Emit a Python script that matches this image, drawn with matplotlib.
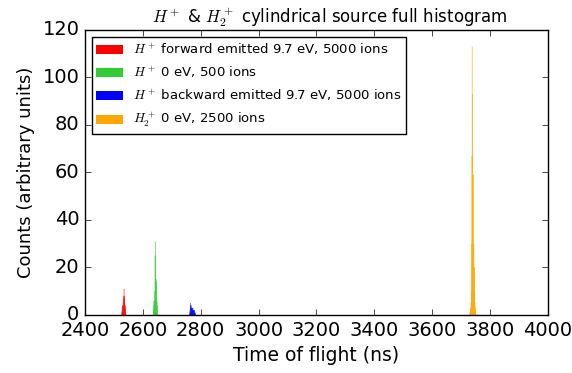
import matplotlib
matplotlib.use("Agg")
import matplotlib.pyplot as plt
import numpy as np

plt.style.use('classic')

# Data (bin centres in ns, counts in arbitrary units)
red_t = [2527, 2528, 2529, 2530, 2531, 2532, 2533, 2534, 2535, 2536, 2537, 2538, 2539, 2540, 2541]
red_c = [1, 2, 3, 4, 4, 5, 7, 8, 11, 8, 7, 4, 4, 3, 1]

green_t = [2636, 2637, 2638, 2639, 2640, 2641, 2642, 2643, 2644, 2645, 2646, 2647, 2648, 2649, 2650, 2651]
green_c = [2, 4, 6, 6, 6, 10, 25, 31, 25, 15, 15, 14, 6, 6, 4, 2]

blue_t = [2762, 2763, 2764, 2765, 2766, 2767, 2768, 2769, 2770, 2771, 2772, 2773, 2774, 2775, 2776, 2777, 2778, 2779, 2780, 2781]
blue_c = [1, 2, 4, 5, 3, 4, 3, 3, 3, 3, 2, 3, 2, 2, 2, 2, 1, 2, 1, 1]

orange_t = [3730, 3731, 3732, 3733, 3734, 3735, 3736, 3737, 3738, 3739, 3740, 3741, 3742, 3743, 3744, 3745, 3746, 3747, 3748, 3749, 3750, 3751]
orange_c = [1, 1, 2, 3, 5, 10, 30, 67, 113, 93, 66, 59, 59, 30, 30, 20, 20, 10, 5, 3, 2, 1]

labels = [r'$H^+$ forward emitted 9.7 eV, 5000 ions',
          r'$H^+$ 0 eV, 500 ions',
          r'$H^+$ backward emitted 9.7 eV, 5000 ions',
          r'$H_2^+$ 0 eV, 2500 ions']
colors = ['red', 'limegreen', 'blue', 'orange']

xticks = [2400, 2600, 2800, 3000, 3200, 3400, 3600, 3800, 4000]
yticks = [0, 20, 40, 60, 80, 100, 120]

fig = plt.figure(figsize=(5.72, 3.73), dpi=100, facecolor='white')
ax = fig.add_axes([0.1486, 0.1555, 0.8094, 0.7641])

series = [(red_t, red_c), (green_t, green_c), (blue_t, blue_c), (orange_t, orange_c)]
for (t, c), lab, col in zip(series, labels, colors):
    ax.bar(t, c, width=2.0, color=col, edgecolor='none', linewidth=0,
           label=lab, align='center', snap=False, antialiased=True)

ax.set_xlim(2400, 4000)
ax.set_ylim(0, 120)
ax.set_xticks(xticks)
ax.set_yticks(yticks)
ax.tick_params(labelsize=14)
ax.set_xlabel('Time of flight (ns)', fontsize=13.5)
ax.set_ylabel('Counts (arbitrary units)', fontsize=13)
ax.set_title(r'$H^+$ & $H_2^+$ cylindrical source full histogram', fontsize=12, x=0.528)
leg = ax.legend(loc='upper left', fontsize=9.5, fancybox=False, frameon=True,
                labelspacing=0.58, borderpad=0.35)

fig.savefig('out.png', dpi=100, facecolor='white')
